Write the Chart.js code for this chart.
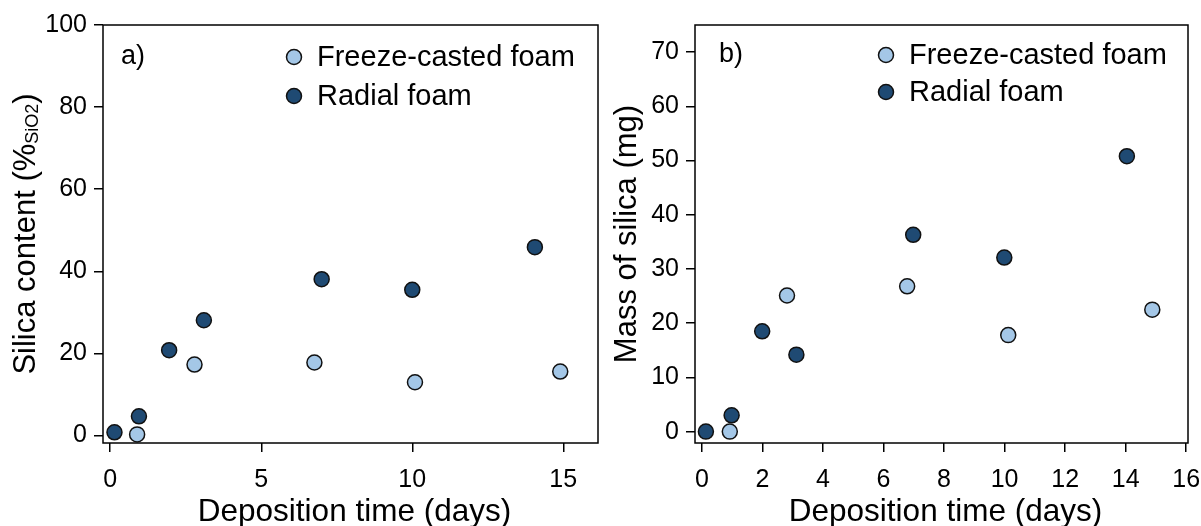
<!DOCTYPE html>
<html>
<head>
<meta charset="utf-8">
<title>Silica deposition on foams</title>
<script src="https://cdn.jsdelivr.net/npm/chart.js"></script>
<style>
  body { margin: 0; background: #ffffff; width: 1201px; height: 526px; overflow: hidden; position: relative; }
  .panel { position: absolute; top: 0; height: 526px; }
  #panelA { left: 0; width: 600px; }
  #panelB { left: 600px; width: 601px; }
</style>
</head>
<body>
<div class="panel" id="panelA"><canvas id="chartA" width="600" height="526"></canvas></div>
<div class="panel" id="panelB"><canvas id="chartB" width="601" height="526"></canvas></div>

<script>
// a) silica content (% SiO2) vs deposition time (days)
const freezeDaysA = [0.89, 2.79, 6.76, 10.09, 14.9];
const freezeSilicaPct = [0.3, 17.3, 17.8, 13.0, 15.6];
const radialDaysA = [0.14, 0.95, 1.95, 3.1, 7.0, 10.0, 14.06];
const radialSilicaPct = [0.8, 4.7, 20.8, 28.1, 38.1, 35.5, 45.9];
const pctTicks = [0, 20, 40, 60, 80, 100];
const dayTicksA = [0, 5, 10, 15];

// b) mass of silica (mg) vs deposition time (days)
const freezeDaysB = [0.92, 2.81, 6.78, 10.12, 14.88];
const freezeMassMg = [0, 25.1, 26.8, 17.8, 22.5];
const radialDaysB = [0.13, 0.98, 1.99, 3.12, 6.98, 9.99, 14.04];
const radialMassMg = [0, 3.0, 18.5, 14.2, 36.3, 32.1, 50.8];
const massTicks = [0, 10, 20, 30, 40, 50, 60, 70];
const dayTicksB = [0, 2, 4, 6, 8, 10, 12, 14, 16];

const seriesNames = ['Freeze-casted foam', 'Radial foam'];
const LIGHT = '#a4c7e7';
const DARK = '#1f4a73';
const FONT = '"Liberation Sans", Arial, Helvetica, sans-serif';

const pairs = (xs, ys) => xs.map((x, i) => ({ x: x, y: ys[i] }));

// per panel text and legend placement (kept outside the chart options)
const decorById = {
  chartA: {
    letter: 'a)', letterDx: 18, letterY: 57, legendY: [57, 96],
    xTitle: 'Deposition time (days)', yTitleX: 35,
    yTitle: [['Silica content (%', 31, 0], ['SiO2', 18, 3], [')', 31, 0]]
  },
  chartB: {
    letter: 'b)', letterDx: 24, letterY: 55, legendY: [55, 92],
    xTitle: 'Deposition time (days)', yTitleX: 36,
    yTitle: [['Mass of silica (mg)', 31, 0]]
  }
};

// frame box, inside legend, panel letter and axis titles
const panelDecor = {
  id: 'panelDecor',
  beforeDatasetsDraw(chart) {
    const { ctx, chartArea: a } = chart;
    ctx.save();
    ctx.strokeStyle = '#000';
    ctx.lineWidth = 1.5;
    ctx.strokeRect(a.left, a.top, a.right - a.left, a.bottom - a.top);
    ctx.restore();
  },
  afterDraw(chart) {
    const o = decorById[chart.canvas.id];
    const { ctx, chartArea: a } = chart;
    ctx.save();
    ctx.fillStyle = '#000';

    // panel letter
    ctx.font = '27px ' + FONT;
    ctx.textAlign = 'left';
    ctx.textBaseline = 'middle';
    ctx.fillText(o.letter, a.left + o.letterDx, o.letterY);

    // legend inside the plot
    chart.data.datasets.forEach((ds, i) => {
      const y = o.legendY[i];
      ctx.beginPath();
      ctx.arc(a.left + 191, y, 7.5, 0, Math.PI * 2);
      ctx.fillStyle = ds.backgroundColor;
      ctx.fill();
      ctx.lineWidth = 1.5;
      ctx.strokeStyle = '#111';
      ctx.stroke();
      ctx.fillStyle = '#000';
      ctx.font = '29px ' + FONT;
      ctx.fillText(ds.label, a.left + 214, y + 1);
    });

    // x title
    ctx.font = '31.5px ' + FONT;
    ctx.textAlign = 'center';
    ctx.textBaseline = 'alphabetic';
    ctx.fillText(o.xTitle, (a.left + a.right) / 2 + 4, 521);

    // y title, rotated, main text plus optional subscript piece
    ctx.translate(o.yTitleX, (a.top + a.bottom) / 2);
    ctx.rotate(-Math.PI / 2);
    ctx.textAlign = 'left';
    const widths = o.yTitle.map(([t, size]) => {
      ctx.font = size + 'px ' + FONT;
      return ctx.measureText(t).width;
    });
    let x = -widths.reduce((s, w) => s + w, 0) / 2;
    o.yTitle.forEach(([t, size, shift], i) => {
      ctx.font = size + 'px ' + FONT;
      ctx.fillText(t, x, shift);
      x += widths[i];
    });
    ctx.restore();
  }
};

function axis(ticks, min, max, fitSize, isX) {
  return {
    type: 'linear',
    min: min,
    max: max,
    afterBuildTicks: s => { s.ticks = ticks.map(v => ({ value: v })); },
    afterFit: s => {
      if (isX) s.height = fitSize; else s.width = fitSize;
      s.paddingLeft = 0; s.paddingRight = 0; s.paddingTop = 0; s.paddingBottom = 0;
    },
    border: { display: false },
    grid: { drawOnChartArea: false, drawTicks: true, tickLength: 9, color: '#000', lineWidth: 1.5 },
    ticks: { color: '#000', font: { family: FONT, size: 25 }, padding: isX ? 13 : 7, maxRotation: 0 }
  };
}

function makeChart(id, freeze, radial, xAxis, yAxis, padRight) {
  return new Chart(document.getElementById(id), {
    type: 'scatter',
    data: {
      datasets: [
        { label: seriesNames[0], data: freeze, backgroundColor: LIGHT },
        { label: seriesNames[1], data: radial, backgroundColor: DARK }
      ]
    },
    options: {
      responsive: false,
      animation: false,
      events: [],
      clip: false,
      layout: { autoPadding: false, padding: { left: 0, right: padRight, top: 25, bottom: 0 } },
      elements: { point: { radius: 7.5, borderWidth: 1.5, borderColor: '#111' } },
      scales: { x: xAxis, y: yAxis },
      plugins: { legend: { display: false }, tooltip: { enabled: false } }
    },
    plugins: [panelDecor]
  });
}

makeChart('chartA',
  pairs(freezeDaysA, freezeSilicaPct), pairs(radialDaysA, radialSilicaPct),
  axis(dayTicksA, -0.24, 16.15, 83, true),
  axis(pctTicks, -1.8, 100, 103, false),
  2);

makeChart('chartB',
  pairs(freezeDaysB, freezeMassMg), pairs(radialDaysB, radialMassMg),
  axis(dayTicksB, -0.23, 16.06, 83, true),
  axis(massTicks, -2.1, 75, 95, false),
  13);
</script>
</body>
</html>
